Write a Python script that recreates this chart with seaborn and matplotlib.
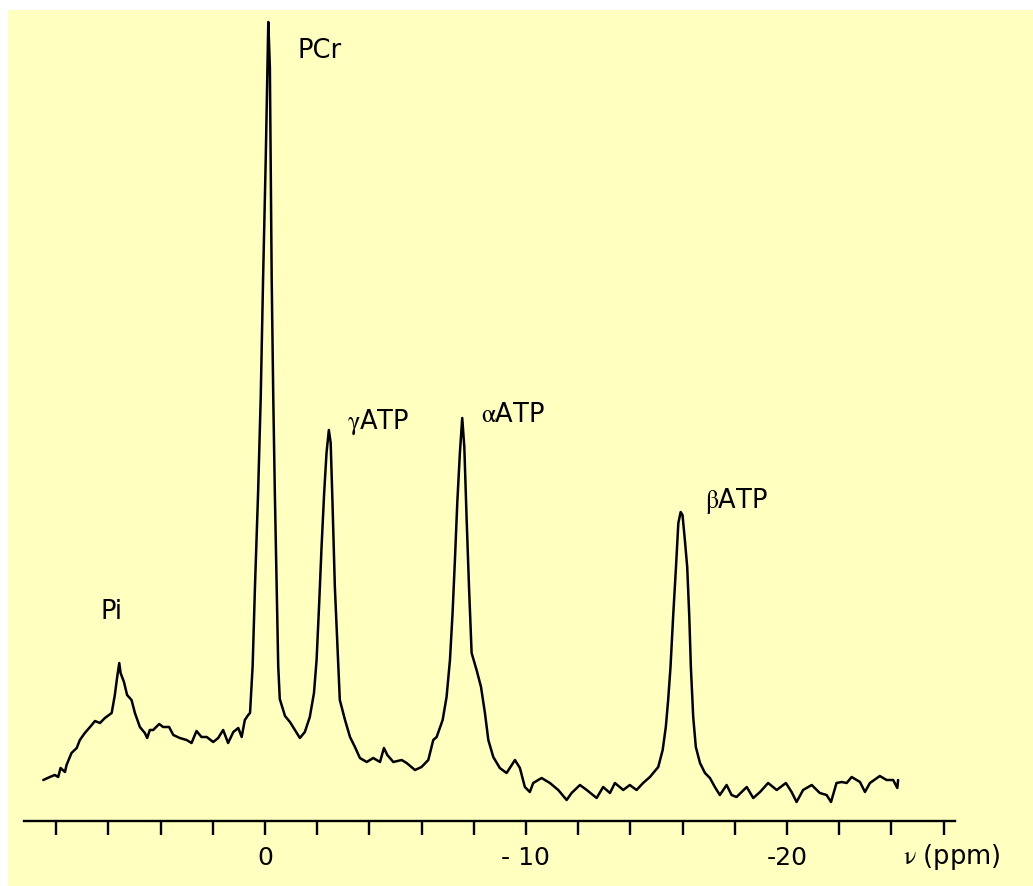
import matplotlib
matplotlib.use("Agg")
import matplotlib.pyplot as plt
from matplotlib.patches import Rectangle
import numpy as np
import seaborn as sns

# 31P NMR spectrum, chemical shift (ppm) and intensity (arbitrary units)
shift_ppm = [8.49, 8.24, 8.05, 7.92, 7.83, 7.66, 7.60, 7.41, 7.21, 7.09,
             6.90, 6.70, 6.51, 6.32, 6.13, 5.87, 5.75, 5.66, 5.58, 5.53,
             5.40, 5.28, 5.11, 4.98, 4.79, 4.60, 4.51, 4.41, 4.28, 4.05,
             3.90, 3.67, 3.51, 3.26, 3.00, 2.81, 2.62, 2.43, 2.23, 1.98,
             1.79, 1.60, 1.41, 1.21, 1.02, 0.89, 0.77, 0.64, 0.57, 0.47,
             0.38, 0.26, 0.16, 0.07, -0.03, -0.10, -0.13, -0.19, -0.22, -0.26,
             -0.32, -0.38, -0.45, -0.51, -0.57, -0.77, -0.96, -1.15, -1.34, -1.53,
             -1.72, -1.88, -1.98, -2.08, -2.17, -2.27, -2.36, -2.45, -2.52, -2.59,
             -2.68, -2.79, -2.87, -3.07, -3.26, -3.45, -3.64, -3.90, -4.15, -4.41,
             -4.56, -4.69, -4.92, -5.24, -5.43, -5.75, -6.00, -6.26, -6.45, -6.58,
             -6.81, -6.96, -7.09, -7.19, -7.28, -7.37, -7.47, -7.56, -7.64, -7.73,
             -7.82, -7.92, -8.11, -8.28, -8.43, -8.56, -8.75, -9.00, -9.26, -9.58,
             -9.77, -9.96, -10.15, -10.28, -10.60, -10.92, -11.24, -11.56, -11.75, -12.07,
             -12.33, -12.71, -12.96, -13.22, -13.41, -13.73, -13.98, -14.24, -14.49, -14.75,
             -15.07, -15.24, -15.36, -15.45, -15.54, -15.64, -15.75, -15.84, -15.93, -16.00,
             -16.09, -16.18, -16.26, -16.32, -16.41, -16.51, -16.67, -16.86, -17.05, -17.24,
             -17.43, -17.69, -17.88, -18.07, -18.46, -18.71, -18.97, -19.28, -19.61, -19.96,
             -20.18, -20.37, -20.62, -20.95, -21.26, -21.52, -21.69, -21.90, -22.10, -22.29,
             -22.48, -22.80, -22.99, -23.18, -23.56, -23.82, -24.07, -24.23, -24.26]
intensity = [41, 44, 46, 44, 53, 49, 56, 68, 73, 81,
             88, 94, 100, 98, 103, 108, 126, 144, 158, 148,
             139, 126, 121, 108, 94, 88, 83, 91, 91, 97,
             94, 94, 86, 83, 81, 78, 90, 84, 84, 79,
             83, 91, 78, 89, 93, 84, 101, 106, 108, 155,
             235, 329, 424, 542, 660, 754, 799, 754, 660, 542,
             424, 329, 235, 155, 122, 105, 99, 91, 83, 89,
             104, 128, 161, 218, 274, 328, 368, 391, 378, 318,
             234, 168, 121, 101, 84, 74, 63, 59, 63, 59,
             73, 66, 59, 61, 58, 51, 54, 61, 81, 84,
             101, 124, 161, 208, 261, 318, 368, 403, 374, 301,
             234, 168, 151, 134, 108, 81, 64, 53, 48, 61,
             53, 34, 29, 38, 43, 38, 31, 21, 28, 36,
             31, 23, 34, 28, 38, 31, 36, 31, 38, 44,
             54, 71, 94, 121, 154, 204, 254, 298, 309, 306,
             281, 254, 204, 154, 104, 74, 58, 48, 43, 34,
             26, 36, 26, 24, 34, 23, 29, 38, 31, 38,
             29, 19, 31, 36, 28, 26, 19, 38, 39, 38,
             44, 39, 29, 38, 45, 41, 41, 33, 41]

peak_names = ["Pi", "PCr", r"$\mathrm{\gamma}$ATP", r"$\mathrm{\alpha}$ATP",
              r"$\mathrm{\beta}$ATP"]
label_ppm = [6.28, -1.26, -3.14, -8.28, -16.86]
label_int = [209, 770, 399, 406, 320]

tick_ppm = list(range(8, -27, -2))
tick_text = {0: "0", -10: "- 10", -20: "-20"}

sns.set_theme(style="ticks")
plt.rcParams["font.family"] = ["DejaVu Sans"]
plt.rcParams["mathtext.fontset"] = "stix"

W, H = 1033, 886
fig = plt.figure(figsize=(W / 100, H / 100), dpi=100, facecolor="white")
# pale yellow backdrop, kept behind the axes
fig.patches.append(Rectangle((8 / W, 0), (W - 8) / W, (H - 10) / H,
                             transform=fig.transFigure, facecolor="#FFFFC0",
                             edgecolor="none", zorder=-10))

ax = fig.add_axes([24 / W, 1 - 821 / H, (955 - 24) / W, (821 - 10) / H])
ax.patch.set_alpha(0)
ax.set_zorder(5)

sns.lineplot(x=shift_ppm, y=intensity, sort=False, estimator=None,
             color="black", linewidth=1.8, ax=ax)

ax.set_xlim(9.23, -26.44)
ax.set_ylim(0, 811)

for side in ["left", "top", "right"]:
    ax.spines[side].set_visible(False)
ax.spines["bottom"].set_linewidth(1.7)
ax.spines["bottom"].set_color("black")
ax.set_yticks([])
ax.set_xticks(tick_ppm)
ax.set_xticklabels([tick_text.get(t, "") for t in tick_ppm])
ax.tick_params(axis="x", direction="out", length=10, width=1.7, color="black",
               pad=8, labelsize=18, labelcolor="black")
ax.set_xlabel("")
ax.set_ylabel("")

for name, px, py in zip(peak_names, label_ppm, label_int):
    ax.text(px, py, name, ha="left", va="center", fontsize=18.5, color="black")

ax.text(-24.44, -0.044, r"$\mathrm{\nu}$ (ppm)", transform=ax.get_xaxis_transform(),
        ha="left", va="center", fontsize=18.5, color="black")

fig.savefig("out.png", dpi=100, facecolor="white")
